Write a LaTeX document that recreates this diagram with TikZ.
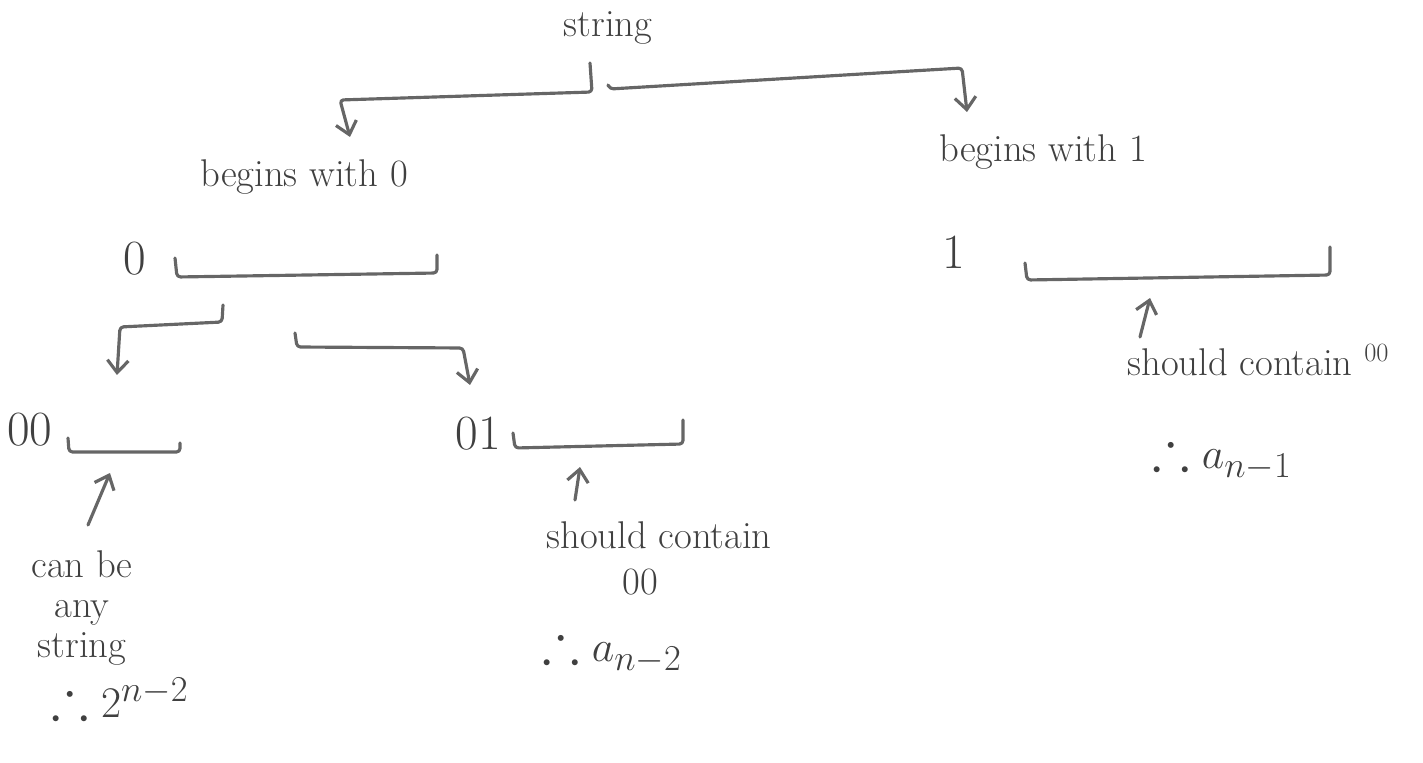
\documentclass[tikz,border=0pt]{standalone}
\usepackage{amssymb}
\usetikzlibrary{arrows.meta}
\begin{document}
\begin{tikzpicture}[x=0.02cm,y=-0.02cm,
  ink/.style={draw=black!60, line width=1.8pt, line cap=round, line join=round, rounded corners=2pt},
  tipped/.style={ink, -{Straight Barb[length=7pt,width=12pt,line width=1.8pt]}},
  lbl/.style={text=black!75, inner sep=0pt, font=\fontsize{22}{26}\selectfont},
  digit/.style={lbl, font=\fontsize{28}{32}\selectfont},
  mathlbl/.style={lbl, font=\fontsize{32}{36}\selectfont}]
\useasboundingbox (0,0) rectangle (1423,763);

% texts
\node[lbl] (root) at (608,28) {string};
\node[lbl] (b0) at (304,177) {begins with 0};
\node[lbl] (b1) at (1043,152) {begins with 1};
\node[digit] (z) at (135,259) {0};
\node[digit] (o) at (954,252) {1};
\node[digit] (zz) at (30,430) {00};
\node[digit] (zo) at (478,434) {01};
\node[lbl, align=center, font=\fontsize{22}{23}\selectfont] (any) at (82,608) {can be\\any\\string};
\node[mathlbl] (p2) at (120,698) {$\therefore 2^{n-2}$};
\node[lbl] (sc0) at (659,535) {should contain};
\node[lbl] (c00) at (640,582) {00};
\node[mathlbl] (an2) at (612,648) {$\therefore a_{n-2}$};
\node[lbl] (sc1) at (1258,360) {should contain\ \raisebox{0.35em}{\fontsize{15}{18}\selectfont 00}};
\node[mathlbl] (an1) at (1222,455) {$\therefore a_{n-1}$};

% coordinates
\coordinate (r0) at (590,63);
\coordinate (t0) at (350,137);
\coordinate (r1) at (608,85);
\coordinate (t1) at (967,112);
\coordinate (z0s) at (223,305);
\coordinate (z0t) at (117,375);
\coordinate (z1s) at (295,333);
\coordinate (z1t) at (470,385);
\coordinate (zzs) at (88,525);
\coordinate (zzt) at (110,473);
\coordinate (zos) at (575,500);
\coordinate (zot) at (580,467);
\coordinate (os) at (1140,337);
\coordinate (ot) at (1150,298);

% top split
\draw[tipped] (r0) -- (592,92) -- (340,100) -- (t0);
\draw[tipped] (r1) -- (610,89) -- (962,68) -- (t1);

% bracket after 0 and its branches
\draw[ink] (175,258) -- (177,277) -- (437,273) -- (437,255);
\draw[tipped] (z0s) -- (222,322) -- (120,327) -- (z0t);
\draw[tipped] (z1s) -- (297,347) -- (463,348) -- (z1t);

% 00
\draw[ink] (68,438) -- (69,452) -- (180,452) -- (180,443);
\draw[tipped] (zzs) -- (zzt);

% 01
\draw[ink] (513,433) -- (515,448) -- (683,444) -- (683,420);
\draw[tipped] (zos) -- (zot);

% 1
\draw[ink] (1025,263) -- (1027,280) -- (1330,275) -- (1330,247);
\draw[tipped] (os) -- (ot);
\end{tikzpicture}
\end{document}
